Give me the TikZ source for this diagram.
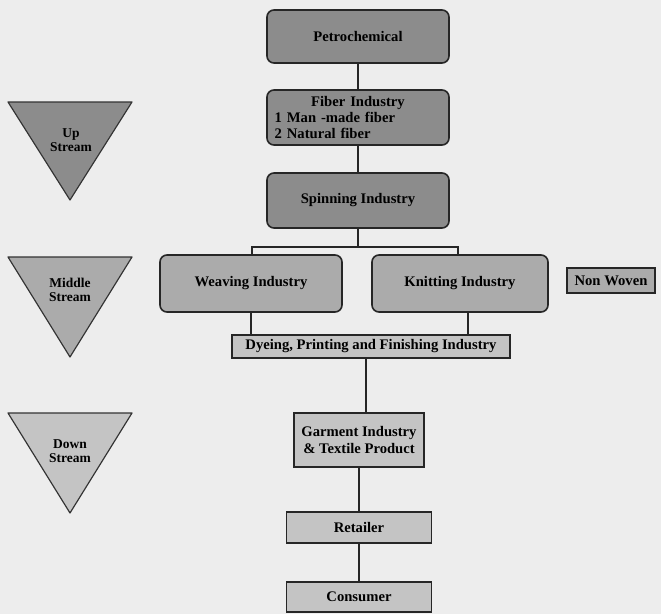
\documentclass[tikz,border=0pt]{standalone}
\usepackage{fontspec}
\setmainfont{Liberation Serif}
\usetikzlibrary{positioning}
\definecolor{darkbox}{gray}{0.55}
\definecolor{midbox}{gray}{0.67}
\definecolor{lightbox}{gray}{0.77}
\definecolor{paper}{gray}{0.93}
\begin{document}
\begin{tikzpicture}[x=0.03cm,y=-0.03cm,
    box/.style={draw=black!85, line width=1.4pt, inner sep=2pt, align=center,
        font=\fontsize{12.5}{14}\selectfont\bfseries},
    rbox/.style={box, rounded corners=6pt},
    link/.style={draw=black!85, line width=1.4pt},
    tri/.style={draw=black!80, line width=1pt, line join=round},
    trilabel/.style={align=center, inner sep=0pt, font=\fontsize{11.5}{12.5}\selectfont\bfseries}]
\fill[paper] (0,0) rectangle (661,614);
\useasboundingbox (0,0) rectangle (661,614);

\fill[darkbox] (8,102)--(132,102)--(70,200)--cycle;
\draw[tri] (8,102)--(132,102)--(70,200)--cycle;
\node[trilabel] (up) at (71,140) {Up\\Stream};
\fill[midbox] (8,257)--(132,257)--(70,357)--cycle;
\draw[tri] (8,257)--(132,257)--(70,357)--cycle;
\node[trilabel] (middle) at (70,290) {Middle\\Stream};
\fill[lightbox] (8,413)--(132,413)--(70,513)--cycle;
\draw[tri] (8,413)--(132,413)--(70,513)--cycle;
\node[trilabel] (down) at (70,451) {Down\\Stream};

\node[rbox, fill=darkbox, minimum width=5.46cm, minimum height=1.59cm] (petro) at (358,36.5) {Petrochemical};
\node[rbox, fill=darkbox, minimum width=5.46cm, minimum height=1.65cm, text width=5cm, align=left] (fiber) at (358,117.5)
    {{\centering Fiber Industry\par}1 Man -made fiber\\2 Natural fiber};
\node[rbox, fill=darkbox, minimum width=5.46cm, minimum height=1.65cm] (spin) at (358,200.5) {Spinning Industry};
\node[rbox, fill=midbox, minimum width=5.46cm, minimum height=1.71cm] (weave) at (251,283.5) {Weaving Industry};
\node[rbox, fill=midbox, minimum width=5.28cm, minimum height=1.71cm] (knit) at (460,283.5) {Knitting Industry};
\node[box, fill=midbox, minimum width=2.64cm, minimum height=0.75cm] (nonwoven) at (611,280.5) {Non Woven};
\node[box, fill=lightbox, minimum width=8.34cm, minimum height=0.69cm] (dye) at (371,346.5) {Dyeing, Printing and Finishing Industry};
\node[box, fill=lightbox, minimum width=3.9cm, minimum height=1.62cm] (garment) at (359,440) {Garment Industry\\\& Textile Product};
\node[box, fill=lightbox, minimum width=4.35cm, minimum height=0.93cm] (retail) at (359,527.5) {Retailer};
\node[box, fill=lightbox, minimum width=4.35cm, minimum height=0.9cm] (consumer) at (359,597) {Consumer};

\coordinate (busL) at (252,247);
\coordinate (busR) at (458,247);
\draw[link] (petro) -- (fiber);
\draw[link] (fiber) -- (spin);
\draw[link] (spin.south) -- (spin.south |- busL);
\draw[link] (weave.north -| busL) -- (busL) -- (busR) -- (knit.north -| busR);
\draw[link] (weave.south) -- (weave.south |- dye.north);
\draw[link] ([xshift=7pt]knit.south) -- ([xshift=7pt]knit.south |- dye.north);
\draw[link] (garment.north -| 366,0) -- (dye.south -| 366,0);
\draw[link] (garment) -- (retail);
\draw[link] (retail) -- (consumer);
\end{tikzpicture}
\end{document}
